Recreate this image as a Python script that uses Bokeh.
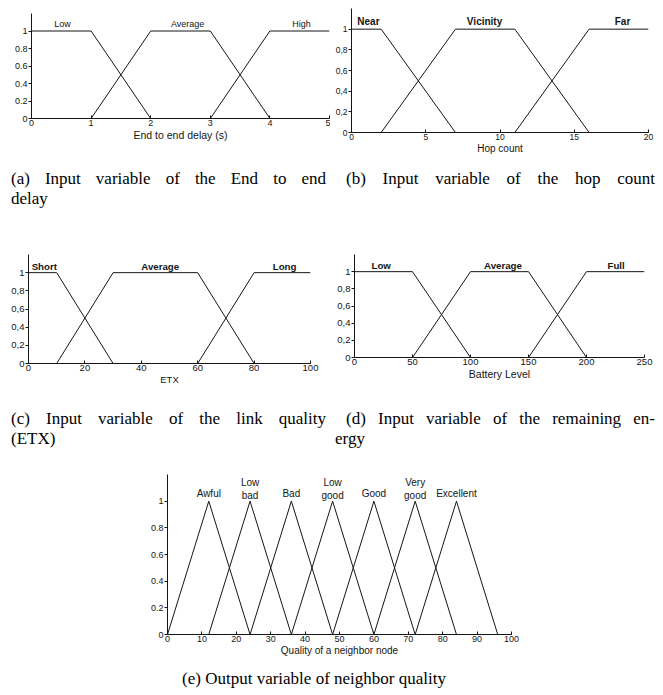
from bokeh.plotting import figure
from bokeh.layouts import column, row
from bokeh.models import Div, Spacer, FixedTicker, Range1d, CustomJSTickFormatter
from bokeh.embed import file_html
from bokeh.resources import INLINE
from bokeh.core.properties import value

SANS = "Liberation Sans"
SERIF = "Liberation Serif"

# ---------------- data ----------------
y_ticks = [0, 0.2, 0.4, 0.6, 0.8, 1]

# (a) End to end delay
a_terms = ["Low", "Average", "High"]
a_mf_x = [[0, 1, 2, 5], [0, 1, 2, 3, 4, 5], [0, 3, 4, 5]]
a_mf_y = [[1, 1, 0, 0], [0, 0, 1, 1, 0, 0], [0, 0, 1, 1]]
a_xticks = [0, 1, 2, 3, 4, 5]
a_xlabel = "End to end delay (s)"

# (b) Hop count
b_terms = ["Near", "Vicinity", "Far"]
b_mf_x = [[0, 2, 7, 20], [0, 2, 7, 11, 16, 20], [0, 11, 16, 20]]
b_mf_y = [[1, 1, 0, 0], [0, 0, 1, 1, 0, 0], [0, 0, 1, 1]]
b_xticks = [0, 5, 10, 15, 20]
b_xlabel = "Hop count"

# (c) ETX
c_terms = ["Short", "Average", "Long"]
c_mf_x = [[0, 10, 30, 100], [0, 10, 30, 60, 80, 100], [0, 60, 80, 100]]
c_mf_y = [[1, 1, 0, 0], [0, 0, 1, 1, 0, 0], [0, 0, 1, 1]]
c_xticks = [0, 20, 40, 60, 80, 100]
c_xlabel = "ETX"

# (d) Battery level
d_terms = ["Low", "Average", "Full"]
d_mf_x = [[0, 50, 100, 250], [0, 50, 100, 150, 200, 250], [0, 150, 200, 250]]
d_mf_y = [[1, 1, 0, 0], [0, 0, 1, 1, 0, 0], [0, 0, 1, 1]]
d_xticks = [0, 50, 100, 150, 200, 250]
d_xlabel = "Battery Level"

# (e) Output: neighbor quality (triangular MFs: start, peak, end)
e_terms = ["Awful", "Low\nbad", "Bad", "Low\ngood", "Good", "Very\ngood", "Excellent"]
e_start = [0, 12, 24, 36, 48, 60, 72]
e_peak = [12, 24, 36, 48, 60, 72, 84]
e_end = [24, 36, 48, 60, 72, 84, 96]
e_xticks = [0, 10, 20, 30, 40, 50, 60, 70, 80, 90, 100]
e_xlabel = "Quality of a neighbor node"

captions = {
    "a": ["(a) Input variable of the End to end", "delay"],
    "b": ["(b) Input variable of the hop count"],
    "c": ["(c) Input variable of the link quality", "(ETX)"],
    "d": ["(d) Input variable of the remaining en-", "ergy"],
    "e": ["(e) Output variable of neighbor quality"],
}

# ---------------- label placement (layout only) ----------------
a_lab_x, a_lab_y = [0.52, 2.62, 4.53], [1.085, 1.075, 1.075]
b_lab_x, b_lab_y = [1.14, 8.96, 18.25], [1.07, 1.07, 1.07]
c_lab_x, c_lab_y = [5.6, 46.7, 90.8], [1.072, 1.072, 1.072]
d_lab_x, d_lab_y = [23, 128, 225.5], [1.068, 1.072, 1.068]

DOT = CustomJSTickFormatter(code="return String(Math.round(tick*10)/10);")
COMMA = CustomJSTickFormatter(code="return String(Math.round(tick*10)/10).replace('.', ',');")
INK = "#151515"


def panel(w, h, bl, br, bt, bb, x_end, xticks, yfmt, mf_x, mf_y, terms, lx, ly,
          bold, term_size, tick_size, xlabel, xlabel_size, line_h=1.2):
    p = figure(width=w, height=h, x_range=Range1d(0, x_end), y_range=Range1d(0, 1.2),
               output_backend="svg", toolbar_location=None,
               min_border_left=bl, min_border_right=br, min_border_top=bt, min_border_bottom=bb)
    p.outline_line_color = None
    p.grid.visible = False
    p.background_fill_color = "white"
    p.border_fill_color = "white"
    for xs, ys in zip(mf_x, mf_y):
        p.line(xs, ys, line_color=INK, line_width=1)
    p.text(x=lx, y=ly, text=terms, text_align="center", text_baseline="middle",
           text_font=value(SANS), text_font_size=term_size, text_color=INK,
           text_font_style="bold" if bold else "normal", text_line_height=line_h)
    p.xaxis.ticker = FixedTicker(ticks=xticks)
    p.yaxis.ticker = FixedTicker(ticks=y_ticks)
    p.yaxis.formatter = yfmt
    p.axis.minor_tick_line_color = None
    p.axis.axis_line_color = INK
    p.axis.major_tick_line_color = INK
    p.axis.major_label_text_font = SANS
    p.axis.major_label_text_font_size = tick_size
    p.axis.major_label_text_color = INK
    p.xaxis.major_tick_in = 3
    p.xaxis.major_tick_out = 0
    p.yaxis.major_tick_in = 0
    p.yaxis.major_tick_out = 3
    p.xaxis.major_label_standoff = 1
    p.yaxis.major_label_standoff = 1
    p.xaxis.axis_label = xlabel
    p.xaxis.axis_label_text_font = SANS
    p.xaxis.axis_label_text_font_style = "normal"
    p.xaxis.axis_label_text_font_size = xlabel_size
    p.xaxis.axis_label_text_color = INK
    p.xaxis.axis_label_standoff = 0
    return p


pa = panel(322, 150, 23, 1, 5, 40, 5, a_xticks, DOT, a_mf_x, a_mf_y, a_terms, a_lab_x, a_lab_y,
           False, "9px", "9px", a_xlabel, "10.5px")
pb = panel(325, 150, 21, 7, 0, 26, 20, b_xticks, COMMA, b_mf_x, b_mf_y, b_terms, b_lab_x, b_lab_y,
           True, "10px", "8.5px", b_xlabel, "10px")
pc = panel(322, 144, 20, 20, 4, 31, 100, c_xticks, COMMA, c_mf_x, c_mf_y, c_terms, c_lab_x, c_lab_y,
           True, "9.7px", "9.5px", c_xlabel, "9.5px")
pd = panel(325, 144, 24, 11, 4, 37, 250, d_xticks, COMMA, d_mf_x, d_mf_y, d_terms, d_lab_x, d_lab_y,
           True, "9.7px", "9.5px", d_xlabel, "10.5px")

e_mf_x = [[0, s, pk, en, 100] for s, pk, en in zip(e_start, e_peak, e_end)]
e_mf_y = [[0, 0, 1, 0, 0] for _ in e_peak]
e_lab_y = [1.091 if "\n" in t else 1.058 for t in e_terms]
pe = panel(380, 196, 27, 9, 8, 28, 100, e_xticks, DOT, e_mf_x, e_mf_y, e_terms, e_peak, e_lab_y,
           False, "10px", "9px", e_xlabel, "10px", line_h=1.1)

BASE = f"font-family:'{SERIF}';font-size:17px;line-height:20px;color:#000;white-space:nowrap;"


def cap_div(lines, w, h, pad_top, ml1, w1, ml2):
    html = f'<div style="{BASE}padding-top:{pad_top}px;">'
    html += (f'<div style="margin-left:{ml1}px;width:{w1}px;white-space:normal;'
             f'text-align:justify;text-align-last:justify;">{lines[0]}</div>')
    if len(lines) > 1:
        html += f'<div style="margin-left:{ml2}px;">{lines[1]}</div>'
    html += "</div>"
    return Div(text=html, width=w, height=h, margin=0)


da = cap_div(captions["a"], 322, 92, 11, 3, 315, 3)
db = cap_div(captions["b"], 325, 92, 11, 16, 309, 16)
dc = cap_div(captions["c"], 322, 72, 15, 3, 315, 3)
dd = cap_div(captions["d"], 325, 72, 15, 16, 309, 5)
de = Div(text=f'<div style="{BASE}line-height:18px;padding-top:8px;width:612px;text-align:center;">'
              f'{captions["e"][0]}</div>', width=647, height=24, margin=0)


def solo(p):
    # wrap each plot on its own so frames in one row are not aligned to each other
    return column(p)


layout = column(
    row(solo(pa), solo(pb)),
    row(da, db),
    row(solo(pc), solo(pd)),
    row(dc, dd),
    row(Spacer(width=132, height=196), solo(pe)),
    de,
    margin=(8, 0, 0, 8),
)

open("out.html", "w").write(file_html(layout, INLINE))
